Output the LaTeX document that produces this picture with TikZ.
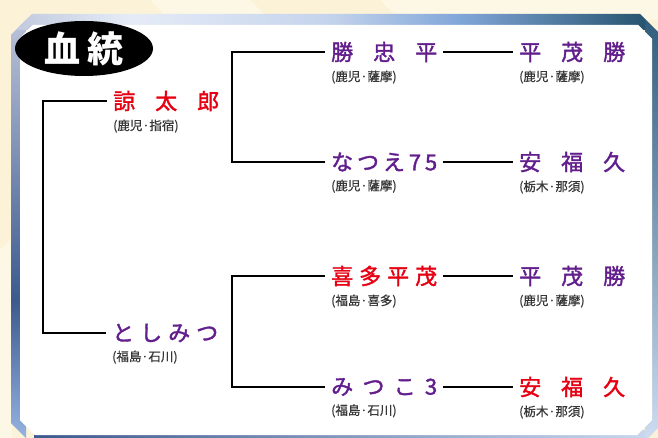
\documentclass[tikz,border=0pt]{standalone}
\usepackage{fontspec}
\newfontfamily\jpfont{Noto Sans CJK JP}
\newfontfamily\jpname[FakeBold=1.6]{Noto Sans CJK JP}
\newfontfamily\jporigin[FakeBold=0.6]{Noto Sans CJK JP}
\usetikzlibrary{positioning,shapes.geometric}

\definecolor{namered}{RGB}{230,0,18}
\definecolor{namepurple}{RGB}{98,30,140}
\definecolor{origingrey}{RGB}{55,55,55}
\definecolor{cream}{RGB}{251,242,216}
\definecolor{creamlight}{RGB}{253,247,230}

\tikzset{
  horse/.style={anchor=west, inner xsep=6pt, inner ysep=0pt, text=namepurple,
    font=\jpname\fontsize{22}{22}\selectfont},
  redhorse/.style={horse, text=namered},
  origin/.style={inner xsep=6pt, inner ysep=0pt, text=origingrey,
    font=\jporigin\fontsize{12.5}{12.5}\selectfont},
  pedline/.style={line width=2.6pt},
}
\newcommand{\bname}[1]{\makebox[106pt]{#1}}

\begin{document}
\begin{tikzpicture}[x=1pt,y=-1pt]
    \useasboundingbox (0,0) rectangle (658,438);
    \clip (0,0) rectangle (658,438);

    % background
    \fill[cream] (0,0) rectangle (658,438);
    \fill[creamlight] (150,0) -- (250,0) -- (300,50) -- (200,50) -- cycle;
    \fill[creamlight] (380,0) -- (658,0) -- (658,20) -- (400,20) -- cycle;
    \fill[creamlight] (0,250) -- (12,238) -- (12,438) -- (0,438) -- cycle;

    % frame
    \begin{scope}[even odd rule]
        \clip (11,35) -- (32,14) -- (640,14) -- (670,44) -- (670,416) -- (640,446) -- (34,446) -- (11,423) -- cycle
            (20,38) -- (33,25) -- (638,25) -- (652,39) -- (652,420) -- (637,435) -- (35,435) -- (20,420) -- cycle;
        \shade[top color={rgb,255:red,196;green,202;blue,222}, bottom color={rgb,255:red,60;green,90;blue,142}] (0,0) rectangle (26,300.5);
        \shade[top color={rgb,255:red,60;green,90;blue,142}, bottom color={rgb,255:red,154;green,184;blue,230}] (0,300) rectangle (26,446);
        \shade[top color={rgb,255:red,42;green,88;blue,120}, bottom color={rgb,255:red,208;green,222;blue,242}] (645,0) rectangle (670,446);
        \shade[left color={rgb,255:red,188;green,198;blue,218}, right color={rgb,255:red,230;green,236;blue,247}] (0,0) rectangle (130.5,30);
        \shade[left color={rgb,255:red,230;green,236;blue,247}, right color={rgb,255:red,196;green,211;blue,236}] (130,0) rectangle (330.5,30);
        \shade[left color={rgb,255:red,196;green,211;blue,236}, right color={rgb,255:red,128;green,166;blue,216}] (330,0) rectangle (460.5,30);
        \shade[left color={rgb,255:red,128;green,166;blue,216}, right color={rgb,255:red,39;green,84;blue,111}] (460,0) rectangle (645,30);
        \shade[left color={rgb,255:red,60;green,90;blue,142}, right color={rgb,255:red,200;green,215;blue,238}] (34,430) rectangle (645,446);
    \end{scope}
    \fill[white] (20,38) -- (33,25) -- (638,25) -- (652,39) -- (652,420) -- (637,435) -- (35,435) -- (20,420) -- cycle;

    % title
    \node (title) [ellipse, fill=black, minimum width=138pt, minimum height=55pt, inner sep=0pt,
        text=white, font=\jpfont\bfseries\fontsize{36}{36}\selectfont] at (84,48.5) {血\hspace{7pt}統};

    % horses
    \node[redhorse] (ryo) at (107,101) {\bname{諒\hfill 太\hfill 郎}};
    \node[horse] (toshi) at (106,333) {\bname{と\hfill し\hfill み\hfill つ}};
    \node[horse] (katsu) at (325,52) {\bname{勝\hfill 忠\hfill 平}};
    \node[horse] (natsue) at (325,162) {\bname{な\hfill つ\hfill え\hfill 7\hfill 5}};
    \node[redhorse] (kita) at (325,276) {\bname{喜\hfill 多\hfill 平\hfill 茂}};
    \node[horse] (mitsuko) at (325,387) {\bname{み\hfill つ\hfill こ\hfill 3}};
    \node[horse] (heimoA) at (513,52) {\bname{平\hfill 茂\hfill 勝}};
    \node[horse] (yasuA) at (513,162) {\bname{安\hfill 福\hfill 久}};
    \node[horse] (heimoB) at (513,276) {\bname{平\hfill 茂\hfill 勝}};
    \node[redhorse] (yasuB) at (513,387) {\bname{安\hfill 福\hfill 久}};

    % origins
    \node[origin, below=8pt of ryo.south west, anchor=north west] (ryo-o) {(鹿児·指宿)};
    \node[origin, below=8pt of toshi.south west, anchor=north west] (toshi-o) {(福島·石川)};
    \node[origin, below=8pt of katsu.south west, anchor=north west] (katsu-o) {(鹿児·薩摩)};
    \node[origin, below=8pt of natsue.south west, anchor=north west] (natsue-o) {(鹿児·薩摩)};
    \node[origin, below=8pt of kita.south west, anchor=north west] (kita-o) {(福島·喜多)};
    \node[origin, below=8pt of mitsuko.south west, anchor=north west] (mitsuko-o) {(福島·石川)};
    \node[origin, below=8pt of heimoA.south west, anchor=north west] (heimoA-o) {(鹿児·薩摩)};
    \node[origin, below=8pt of yasuA.south west, anchor=north west] (yasuA-o) {(栃木·那須)};
    \node[origin, below=8pt of heimoB.south west, anchor=north west] (heimoB-o) {(鹿児·薩摩)};
    \node[origin, below=8pt of yasuB.south west, anchor=north west] (yasuB-o) {(栃木·那須)};

    % pedigree lines
    \coordinate (rootb) at (43,0);
    \coordinate (sireb) at (232,0);
    \draw[pedline] (ryo.west) -- (ryo.west -| rootb) -- (toshi.west -| rootb) -- (toshi.west);
    \draw[pedline] (katsu.west) -- (katsu.west -| sireb) -- (natsue.west -| sireb) -- (natsue.west);
    \draw[pedline] (kita.west) -- (kita.west -| sireb) -- (mitsuko.west -| sireb) -- (mitsuko.west);
    \draw[pedline] (katsu.east) -- (heimoA.west);
    \draw[pedline] (natsue.east) -- (yasuA.west);
    \draw[pedline] (kita.east) -- (heimoB.west);
    \draw[pedline] (mitsuko.east) -- (yasuB.west);
\end{tikzpicture}
\end{document}
